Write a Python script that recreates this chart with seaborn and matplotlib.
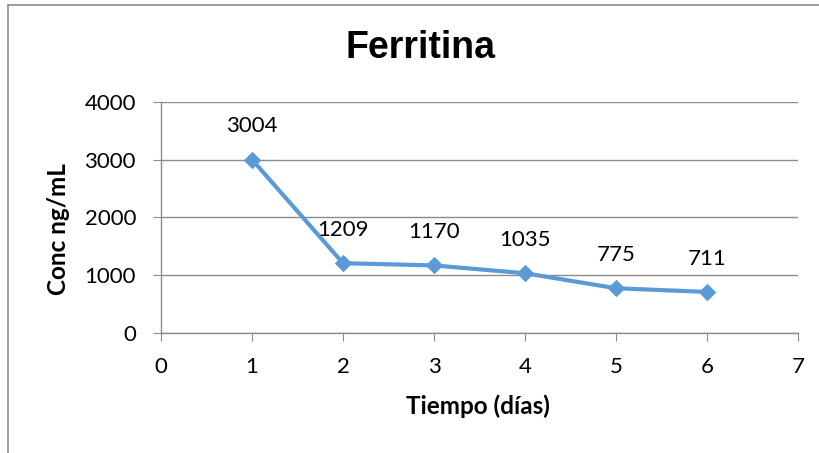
import matplotlib
matplotlib.use("Agg")
import matplotlib.pyplot as plt
import pandas as pd
import seaborn as sns
from matplotlib.lines import Line2D

dias = [1, 2, 3, 4, 5, 6]
ferritina = [3004, 1209, 1170, 1035, 775, 711]

datos = pd.DataFrame({"dia": dias, "conc": ferritina})

sns.set_style("white")
plt.rcParams["font.family"] = ["Lato", "DejaVu Sans"]
plt.rcParams["text.color"] = "black"
plt.rcParams["axes.labelcolor"] = "black"

fig = plt.figure(figsize=(8.19, 4.53), dpi=100)
# área de trazado: x 161-798 px, y 102-333 px
ax = fig.add_axes([161 / 819, 120 / 453, 637 / 819, 231 / 453])

sns.lineplot(
    data=datos, x="dia", y="conc", ax=ax, color="#5B9BD5", linewidth=3,
    marker="D", markersize=8, markeredgecolor="#5B9BD5",
)

for x, y in zip(dias, ferritina):
    ax.annotate(f"{y}", (x, y), xytext=(0, 24), textcoords="offset points",
                ha="center", va="center", fontsize=16)

ax.set_xlim(0, 7)
ax.set_ylim(0, 4000)
ax.set_xticks(range(0, 8))
ax.set_yticks(range(0, 4001, 1000))
ax.yaxis.grid(True, color="#8c8c8c", linewidth=1)
ax.set_axisbelow(True)
for s in ["top", "right"]:
    ax.spines[s].set_visible(False)
for s in ["left", "bottom"]:
    ax.spines[s].set_color("#8c8c8c")
    ax.spines[s].set_linewidth(1)
ax.tick_params(axis="both", direction="out", length=6, color="#8c8c8c",
               labelcolor="black", labelsize=16, left=True, bottom=True)
ax.tick_params(axis="x", pad=11)
ax.tick_params(axis="y", pad=12)

ax.set_xlabel("Tiempo (días)", fontsize=17.5, fontweight="bold")
ax.set_ylabel("Conc ng/mL", fontsize=17.5, fontweight="bold")
ax.xaxis.set_label_coords(0.498, -0.265)
ax.yaxis.set_label_coords(-0.143, 0.45)
fig.text(0.513, 0.895, "Ferritina", ha="center", va="center", fontsize=27,
         fontweight="bold", family=["Liberation Sans", "DejaVu Sans"])

# marco del gráfico
fig.add_artist(Line2D([8 / 819, 1.0], [448 / 453, 448 / 453], color="#8c8c8c", linewidth=1.2))
fig.add_artist(Line2D([8 / 819, 8 / 819], [448 / 453, 0.0], color="#8c8c8c", linewidth=1.2))

fig.savefig("out.png", dpi=100)
